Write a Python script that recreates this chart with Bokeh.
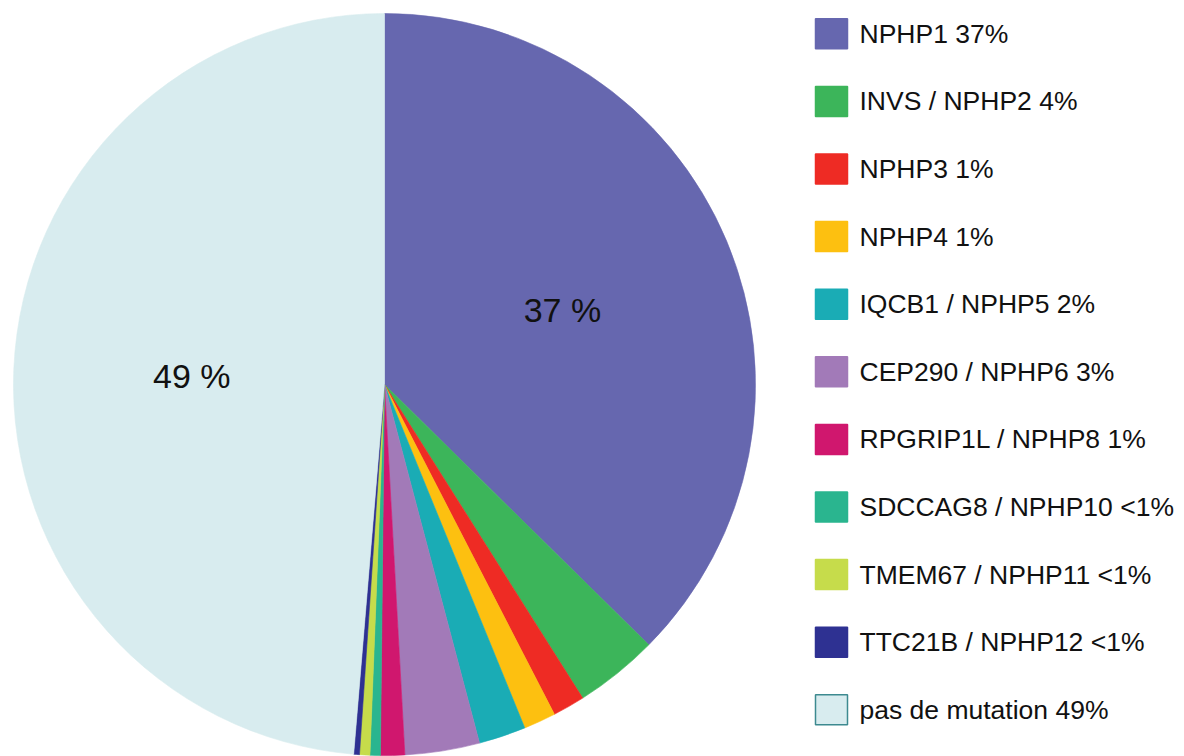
import numpy as np
from bokeh.plotting import figure
from bokeh.models import ColumnDataSource, Range1d
from bokeh.embed import file_html
from bokeh.resources import INLINE
from bokeh.core.properties import value

# ---- data ----
genes = ["NPHP1", "INVS / NPHP2", "NPHP3", "NPHP4", "IQCB1 / NPHP5",
         "CEP290 / NPHP6", "RPGRIP1L / NPHP8", "SDCCAG8 / NPHP10",
         "TMEM67 / NPHP11", "TTC21B / NPHP12", "pas de mutation"]
shares = [37.4, 3.65, 1.4, 1.4, 2.05, 3.25, 1.05, 0.45, 0.45, 0.25, 48.7]
legend_pct = ["37%", "4%", "1%", "1%", "2%", "3%", "1%", "<1%", "<1%", "<1%", "49%"]
slice_labels = ["37 %", "", "", "", "", "", "", "", "", "", "49 %"]
colors = ["#6667AF", "#3CB55A", "#EE2B24", "#FDC010", "#1AACB5", "#A27AB8",
          "#D0176E", "#2AB58F", "#C6DC4B", "#2E3192", "#D8ECEF"]
legend_borders = [c for c in colors[:-1]] + ["#3D8A90"]

# ---- layout ----
W, H = 1184, 756
cx, cy, R = 384, H - 384, 371
FONT = "Liberation Sans"

frac = np.array(shares) / np.sum(shares)
cum = np.concatenate([[0.0], np.cumsum(frac)])
start = np.pi / 2 - cum[:-1] * 2 * np.pi
end = np.pi / 2 - cum[1:] * 2 * np.pi
mid = (start + end) / 2

pie_src = ColumnDataSource(dict(start=start, end=end, color=colors,
                                gene=genes))
lab_src = ColumnDataSource(dict(
    x=cx + 0.52 * R * np.cos(mid),
    y=cy + 0.52 * R * np.sin(mid),
    text=slice_labels))

n = len(genes)
row_y = H - (33.3 + 67.6 * np.arange(n))
leg_src = ColumnDataSource(dict(
    x=np.full(n, 831.0), y=row_y, tx=np.full(n, 859.0),
    color=colors, border=legend_borders,
    label=[f"{g} {p}" for g, p in zip(genes, legend_pct)]))

p = figure(width=W, height=H, x_range=Range1d(0, W), y_range=Range1d(0, H),
           output_backend="svg", toolbar_location=None, min_border=0,
           x_axis_type=None, y_axis_type=None)
p.grid.visible = False
p.outline_line_color = None
p.background_fill_color = "white"
p.border_fill_color = "white"

p.wedge(x=cx, y=cy, radius=R, start_angle="start", end_angle="end",
        direction="clock", fill_color="color", line_color="color",
        line_width=0.6, source=pie_src)

p.text(x="x", y="y", text="text", source=lab_src, text_align="center",
       text_baseline="middle", text_font=value(FONT),
       text_font_size="34px", text_color="#111111")

p.rect(x="x", y="y", width=32, height=30, fill_color="color",
       line_color="border", line_width=1.5, source=leg_src)
p.text(x="tx", y="y", text="label", source=leg_src, text_align="left",
       text_baseline="middle", text_font=value(FONT),
       text_font_size="26.5px", text_color="#111111")

open("out.html", "w").write(file_html(p, INLINE))
